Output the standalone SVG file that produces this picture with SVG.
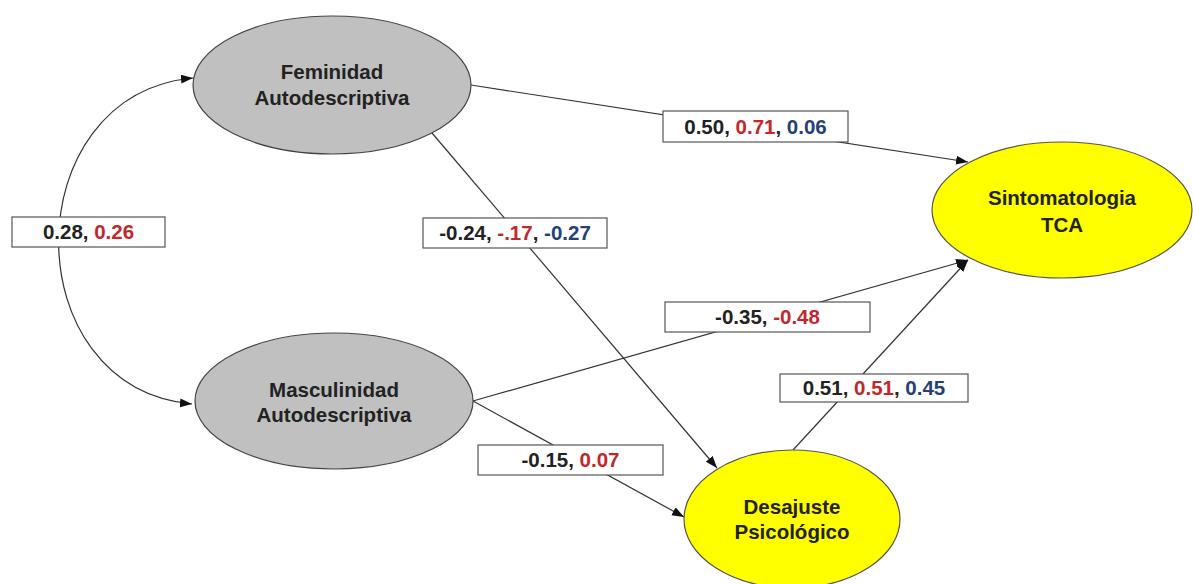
<svg xmlns="http://www.w3.org/2000/svg" width="1193" height="584" viewBox="0 0 1193 584">
  <defs>
    <marker id="arrow" markerUnits="userSpaceOnUse" markerWidth="13" markerHeight="10" refX="12" refY="4.5" orient="auto-start-reverse">
      <path d="M0,0 L12,4.5 L0,9 z" fill="#111"/>
    </marker>
    <style>
      .edge { fill: none; stroke: #333; stroke-width: 1.2; }
      .latent { fill: #c0c0c0; stroke: #444; stroke-width: 1.2; }
      .outcome { fill: #ffff00; stroke: #555; stroke-width: 1.2; }
      .name { font-family: "Liberation Sans", Arial, sans-serif; font-weight: bold; font-size: 20.5px; fill: #222; text-anchor: middle; }
      .box { fill: #fff; stroke: #555; stroke-width: 1.2; }
      .coef { font-family: "Liberation Sans", Arial, sans-serif; font-weight: bold; font-size: 20.5px; fill: #222; text-anchor: middle; }
      .r { fill: #c0282e; }
      .b { fill: #24407a; }
    </style>
  </defs>
  <rect width="1193" height="584" fill="#fff"/>

  <!-- paths and covariance -->
  <g id="connectors">
    <path class="edge" d="M193,78 C14,95 14,388 192,404" marker-start="url(#arrow)" marker-end="url(#arrow)"/>
    <line class="edge" x1="471" y1="85" x2="968" y2="162" marker-end="url(#arrow)"/>
    <line class="edge" x1="432" y1="133" x2="717" y2="468" marker-end="url(#arrow)"/>
    <line class="edge" x1="473" y1="401" x2="968" y2="260" marker-end="url(#arrow)"/>
    <line class="edge" x1="473" y1="401" x2="684" y2="517" marker-end="url(#arrow)"/>
    <line class="edge" x1="793" y1="450" x2="968" y2="260" marker-end="url(#arrow)"/>
  </g>

  <g id="node-feminidad">
    <ellipse class="latent" cx="332" cy="85" rx="139" ry="69"/>
    <text class="name" x="332" y="79">Feminidad</text>
    <text class="name" x="332" y="105">Autodescriptiva</text>
  </g>

  <g id="node-masculinidad">
    <ellipse class="latent" cx="334" cy="401" rx="139" ry="68"/>
    <text class="name" x="334" y="397">Masculinidad</text>
    <text class="name" x="334" y="422">Autodescriptiva</text>
  </g>

  <g id="node-sintomatologia">
    <ellipse class="outcome" cx="1062" cy="210" rx="130" ry="68"/>
    <text class="name" x="1062" y="205">Sintomatologia</text>
    <text class="name" x="1062" y="232">TCA</text>
  </g>

  <g id="node-desajuste">
    <ellipse class="outcome" cx="792" cy="519" rx="108" ry="69"/>
    <text class="name" x="792" y="514">Desajuste</text>
    <text class="name" x="792" y="539">Psicológico</text>
  </g>

  <!-- coefficient labels -->
  <g id="label-cov">
    <rect class="box" x="12" y="217" width="153" height="30"/>
    <text class="coef" x="88.5" y="239">0.28, <tspan class="r">0.26</tspan></text>
  </g>
  <g id="label-fem-tca">
    <rect class="box" x="663" y="111" width="185" height="31"/>
    <text class="coef" x="755.5" y="133.5">0.50, <tspan class="r">0.71</tspan>, <tspan class="b">0.06</tspan></text>
  </g>
  <g id="label-fem-des">
    <rect class="box" x="423" y="218" width="184" height="30"/>
    <text class="coef" x="515" y="240">-0.24, <tspan class="r">-.17</tspan>, <tspan class="b">-0.27</tspan></text>
  </g>
  <g id="label-mas-tca">
    <rect class="box" x="665" y="302" width="205" height="30"/>
    <text class="coef" x="767.5" y="324">-0.35, <tspan class="r">-0.48</tspan></text>
  </g>
  <g id="label-des-tca">
    <rect class="box" x="780" y="374" width="188" height="28"/>
    <text class="coef" x="874" y="395">0.51, <tspan class="r">0.51</tspan>, <tspan class="b">0.45</tspan></text>
  </g>
  <g id="label-mas-des">
    <rect class="box" x="478" y="445" width="185" height="30"/>
    <text class="coef" x="570.5" y="467">-0.15, <tspan class="r">0.07</tspan></text>
  </g>
</svg>
